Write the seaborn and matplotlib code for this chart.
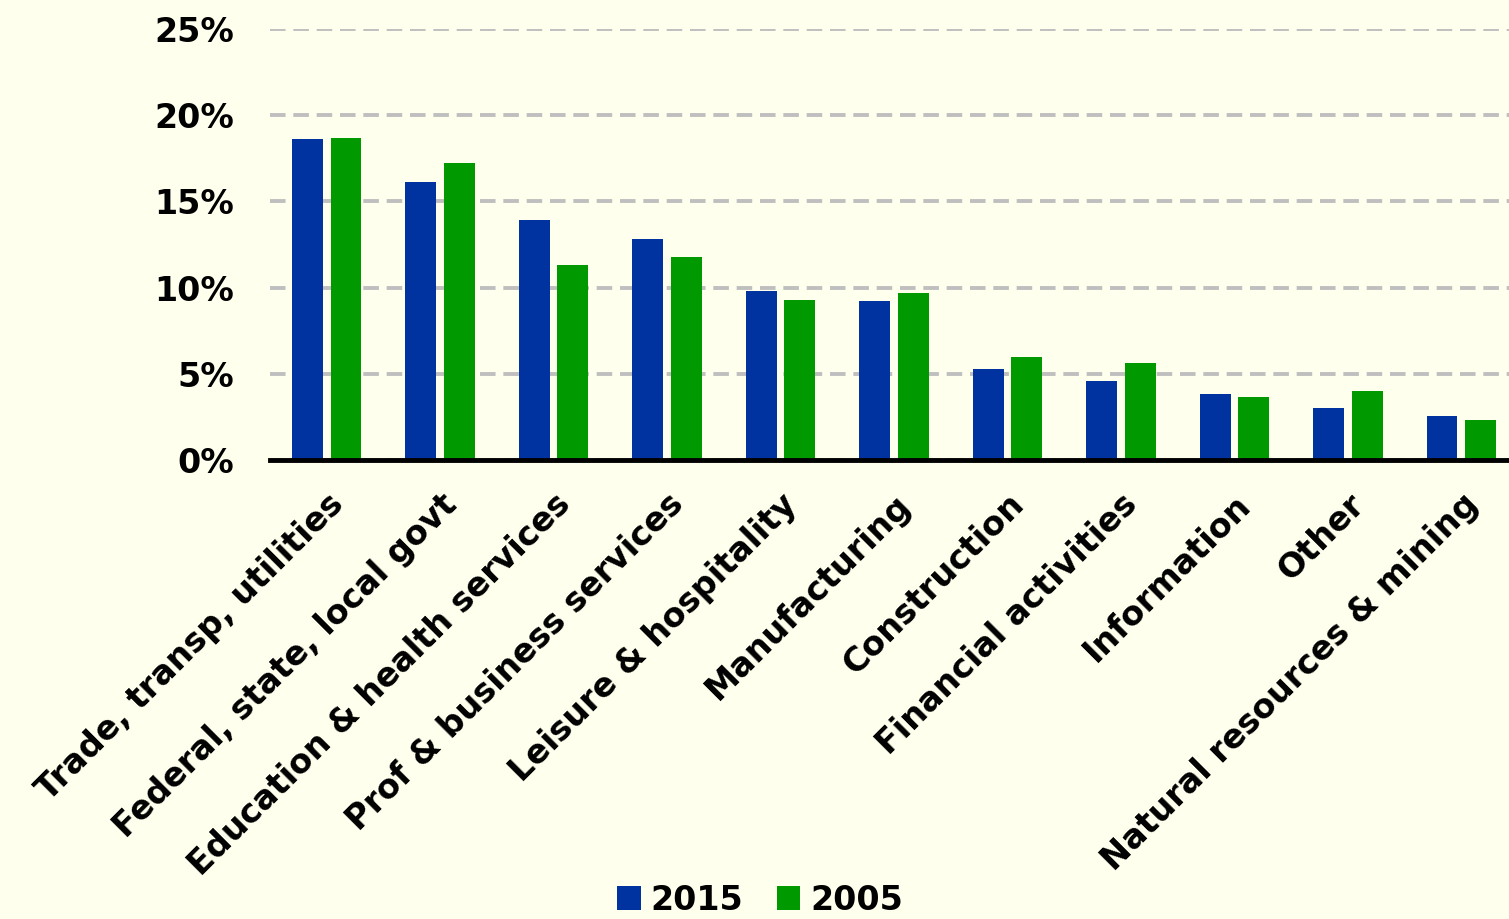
import pandas as pd
import matplotlib.pyplot as plt
import seaborn as sns

categories = ['Trade, transp, utilities', 'Federal, state, local govt',
              'Education & health services', 'Prof & business services',
              'Leisure & hospitality', 'Manufacturing', 'Construction',
              'Financial activities', 'Information', 'Other',
              'Natural resources & mining']
share_2015 = [18.6, 16.1, 13.9, 12.8, 9.8, 9.2, 5.3, 4.6, 3.8, 3.0, 2.55]
share_2005 = [18.7, 17.2, 11.3, 11.8, 9.3, 9.7, 6.0, 5.6, 3.65, 4.0, 2.3]
y_ticks = [0, 5, 10, 15, 20, 25]

bg = '#FFFFEE'
colors = ['#0033A0', '#009900']


def main():
    df = pd.DataFrame({
        'category': categories * 2,
        'share': share_2015 + share_2005,
        'year': ['2015'] * len(categories) + ['2005'] * len(categories),
    })

    sns.set_style('white')
    plt.rcParams['font.family'] = ['DejaVu Sans']
    plt.rcParams['text.color'] = 'black'
    plt.rcParams['xtick.color'] = 'black'
    plt.rcParams['ytick.color'] = 'black'

    fig = plt.figure(figsize=(15.09, 9.19), dpi=100, facecolor=bg)
    ax = fig.add_axes([270 / 1509, 459 / 919, 1248 / 1509, 431 / 919])
    ax.set_facecolor(bg)

    sns.barplot(data=df, x='category', y='share', hue='year',
                palette=colors, saturation=1, width=0.68, gap=0.2, ax=ax,
                edgecolor='none', legend=True)

    ax.set_ylim(0, 25)
    ax.set_xlim(-0.5, len(categories) - 0.5)
    ax.set_yticks(y_ticks)
    ax.set_yticklabels([f'{t}%' for t in y_ticks], fontsize=24, fontweight='bold')
    ax.yaxis.grid(True, color='#BFBFBF', linestyle=(0, (4, 2)), linewidth=2.8)
    ax.set_axisbelow(True)
    ax.tick_params(axis='y', length=0, pad=26)
    ax.tick_params(axis='x', length=0, pad=20)

    ax.set_xticks(range(len(categories)))
    ax.set_xticklabels(categories, rotation=45, ha='right',
                       rotation_mode='anchor', fontsize=24, fontweight='bold')

    for s in ['top', 'right', 'left']:
        ax.spines[s].set_visible(False)
    ax.spines['bottom'].set_color('black')
    ax.spines['bottom'].set_linewidth(3.5)
    ax.set_xlabel('')
    ax.set_ylabel('')

    ax.legend(loc='center', bbox_to_anchor=(760 / 1509, 19 / 919),
              bbox_transform=fig.transFigure, ncol=2, frameon=False,
              prop={'size': 24, 'weight': 'bold'}, handlelength=0.7,
              handleheight=0.7, handletextpad=0.3, columnspacing=1.0)

    fig.savefig('out.png', dpi=100, facecolor=bg)


if __name__ == '__main__':
    main()
